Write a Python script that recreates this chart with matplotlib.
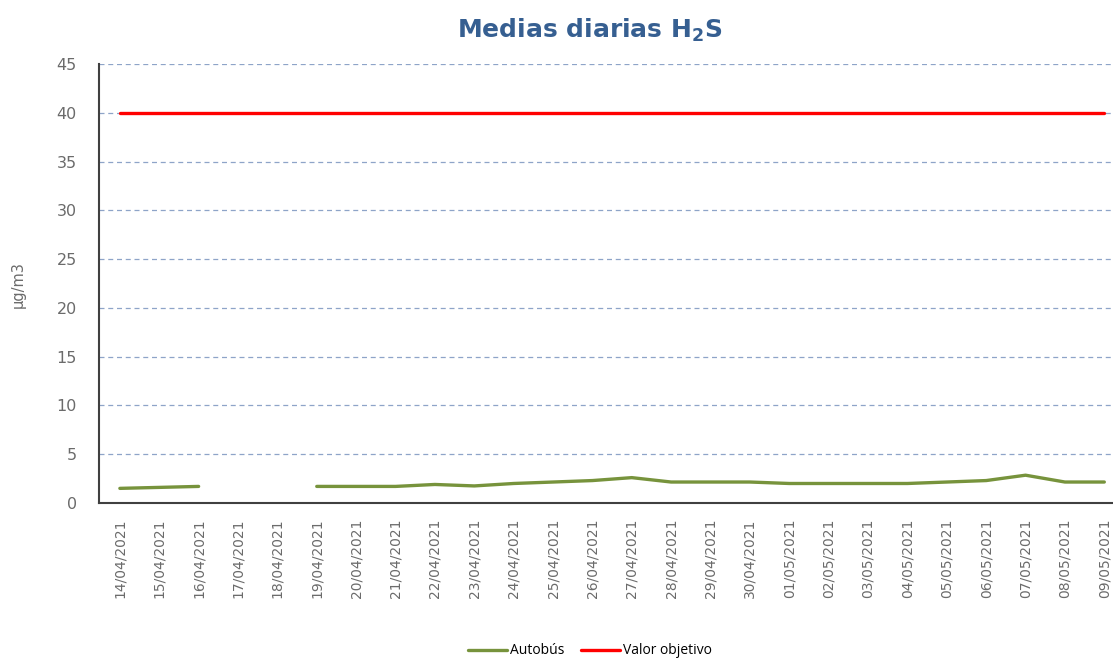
"""Medias diarias H2S: daily means at the bus station vs target value."""

import numpy as np
import matplotlib
matplotlib.use("Agg")
import matplotlib.pyplot as plt

dates = [
    "14/04/2021", "15/04/2021", "16/04/2021", "17/04/2021", "18/04/2021",
    "19/04/2021", "20/04/2021", "21/04/2021", "22/04/2021", "23/04/2021",
    "24/04/2021", "25/04/2021", "26/04/2021", "27/04/2021", "28/04/2021",
    "29/04/2021", "30/04/2021", "01/05/2021", "02/05/2021", "03/05/2021",
    "04/05/2021", "05/05/2021", "06/05/2021", "07/05/2021", "08/05/2021",
    "09/05/2021",
]
# no data on 17/04 and 18/04
autobus = [
    1.5, 1.6, 1.7, np.nan, np.nan, 1.7, 1.7, 1.7, 1.9, 1.75,
    2.0, 2.15, 2.3, 2.6, 2.15, 2.15, 2.15, 2.0, 2.0, 2.0,
    2.0, 2.15, 2.3, 2.85, 2.15, 2.15,
]
valor_objetivo = [40] * len(dates)
y_ticks = [0, 5, 10, 15, 20, 25, 30, 35, 40, 45]

W, H = 1113, 659
fig = plt.figure(figsize=(W / 100, H / 100), dpi=100)
ax = fig.add_axes([99 / W, (H - 503) / H, 1025 / W, 439 / H])

x = np.arange(len(dates))
ax.plot(x, autobus, color="#77933C", linewidth=2.4, label="Autobús",
        solid_capstyle="round")
ax.plot(x, valor_objetivo, color="#FF0000", linewidth=2.4,
        label="Valor objetivo", solid_capstyle="round")

ax.set_xlim(-0.53, len(dates) - 0.5)
ax.set_ylim(0, 45)
ax.set_yticks(y_ticks)
ax.set_xticks(x)
ax.set_xticklabels(dates, rotation=90, fontsize=10, color="#6B6B6B")
ax.tick_params(axis="y", labelsize=11.5, labelcolor="#6B6B6B", length=0, pad=16)
ax.tick_params(axis="x", length=0, pad=11)

ax.grid(axis="y", linestyle=(0, (4, 3)), color="#8EA4C8", linewidth=0.9)
ax.set_axisbelow(True)
for side in ("top", "right"):
    ax.spines[side].set_visible(False)
for side in ("left", "bottom"):
    ax.spines[side].set_color("#404040")
    ax.spines[side].set_linewidth(1.5)

fig.text(18 / W, 1 - 285 / H, "µg/m3", rotation=90, ha="center", va="center",
         fontsize=10.5, color="#6B6B6B")
fig.text(590 / W, 1 - 30 / H, r"Medias diarias H$_\mathbf{2}$S", ha="center",
         va="center", fontsize=18, fontweight="bold", color="#365F91")

fig.legend(loc="center", bbox_to_anchor=(590 / W, 1 - 651 / H), ncol=2,
           frameon=False, handlelength=2.8, handletextpad=0.2,
           columnspacing=1.2, prop={"family": "Open Sans", "size": 10})

fig.savefig("out.png", dpi=100)
